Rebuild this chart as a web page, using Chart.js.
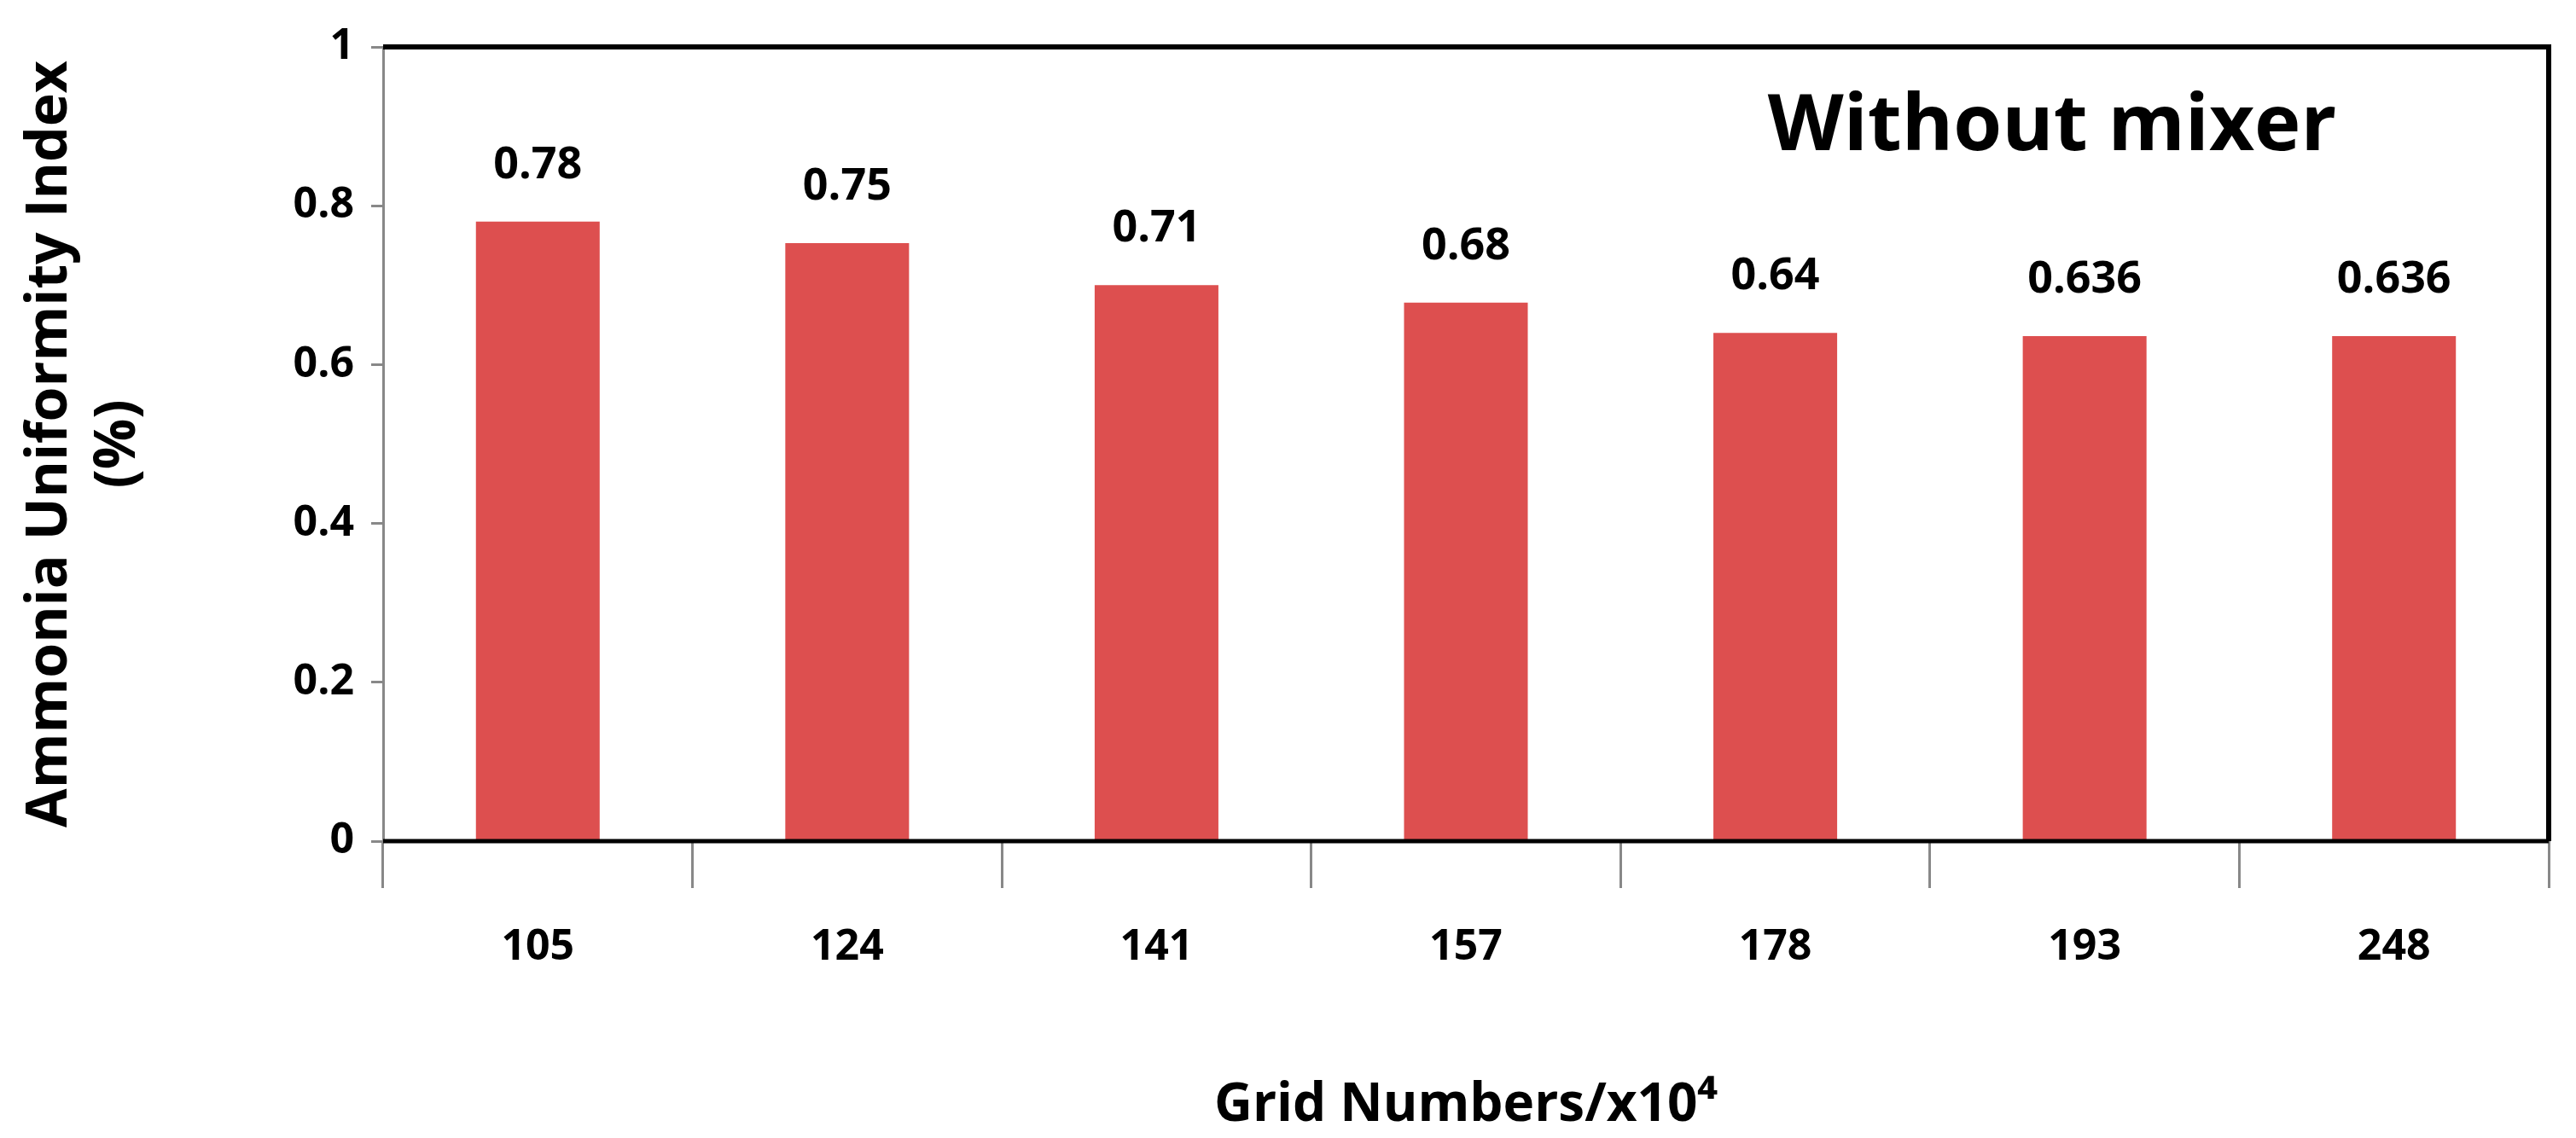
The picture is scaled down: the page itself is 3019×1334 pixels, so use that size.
<!DOCTYPE html>
<html>
<head>
<meta charset="utf-8">
<script src="https://cdn.jsdelivr.net/npm/chart.js@4"></script>
<style>
  html, body { margin: 0; padding: 0; background: #fff; }
  #wrap { width: 3019px; height: 1334px; }
</style>
</head>
<body>
<div id="wrap"><canvas id="chart" width="3019" height="1334"></canvas></div>
<script>
const categories = ['105', '124', '141', '157', '178', '193', '248'];
const uniformity = [0.78, 0.753, 0.70, 0.678, 0.64, 0.636, 0.636];
const valueLabels = ['0.78', '0.75', '0.71', '0.68', '0.64', '0.636', '0.636'];
const yTicks = [0, 0.2, 0.4, 0.6, 0.8, 1];

const FONT = "'Open Sans', 'Liberation Sans', sans-serif";

// labels above bars, title text and the frame
const extras = {
  id: 'extras',
  afterDatasetsDraw(chart) {
    const ctx = chart.ctx;
    const area = chart.chartArea;
    const meta = chart.getDatasetMeta(0);
    ctx.save();
    ctx.fillStyle = '#000';
    ctx.font = 'bold 52px ' + FONT;
    ctx.textAlign = 'center';
    ctx.textBaseline = 'bottom';
    meta.data.forEach((bar, i) => {
      ctx.fillText(valueLabels[i], bar.x, bar.y - 40);
    });
    ctx.font = 'bold 92px ' + FONT;
    ctx.textBaseline = 'middle';
    ctx.fillText('Without mixer', 2405, 150);

    ctx.strokeStyle = '#000';
    ctx.lineWidth = 6;
    ctx.beginPath();
    ctx.moveTo(area.left, area.top);
    ctx.lineTo(area.right, area.top);
    ctx.lineTo(area.right, area.bottom);
    ctx.stroke();
    ctx.lineWidth = 5;
    ctx.beginPath();
    ctx.moveTo(area.left, area.bottom);
    ctx.lineTo(area.right, area.bottom);
    ctx.stroke();
    ctx.restore();
  }
};

new Chart(document.getElementById('chart'), {
  type: 'bar',
  data: {
    labels: categories,
    datasets: [{
      data: uniformity,
      backgroundColor: '#dd4f4f',
      categoryPercentage: 1,
      barPercentage: 0.4
    }]
  },
  options: {
    responsive: false,
    animation: false,
    layout: { padding: { top: 55, right: 32, left: 0, bottom: 0 } },
    plugins: { legend: { display: false }, tooltip: { enabled: false } },
    scales: {
      x: {
        offset: true,
        grid: { offset: true, drawOnChartArea: false, tickLength: 55, color: '#888', lineWidth: 3 },
        border: { display: false },
        ticks: { color: '#000', font: { family: FONT, size: 50, weight: 'bold' }, padding: 40 },
        title: {
          display: true,
          text: 'Grid Numbers/x10\u2074',
          color: '#000',
          font: { family: FONT, size: 62, weight: 'bold' },
          padding: { top: 155, bottom: 0 }
        },
        afterFit(scale) { scale.height = 348; }
      },
      y: {
        min: 0,
        max: 1,
        afterBuildTicks(scale) { scale.ticks = yTicks.map(v => ({ value: v })); },
        grid: { drawOnChartArea: false, tickLength: 14, color: '#888', lineWidth: 3 },
        border: { display: true, color: '#888', width: 3 },
        ticks: {
          color: '#000',
          font: { family: FONT, size: 50, weight: 'bold' },
          padding: 20,
          callback: v => String(Math.round(v * 10) / 10)
        },
        title: {
          display: true,
          text: ['Ammonia Uniformity Index', '(%)'],
          color: '#000',
          font: { family: FONT, size: 66, weight: 'bold' },
          padding: { top: 20, bottom: 30 }
        },
        afterFit(scale) { scale.width = 449; }
      }
    }
  },
  plugins: [extras]
});
</script>
</body>
</html>
